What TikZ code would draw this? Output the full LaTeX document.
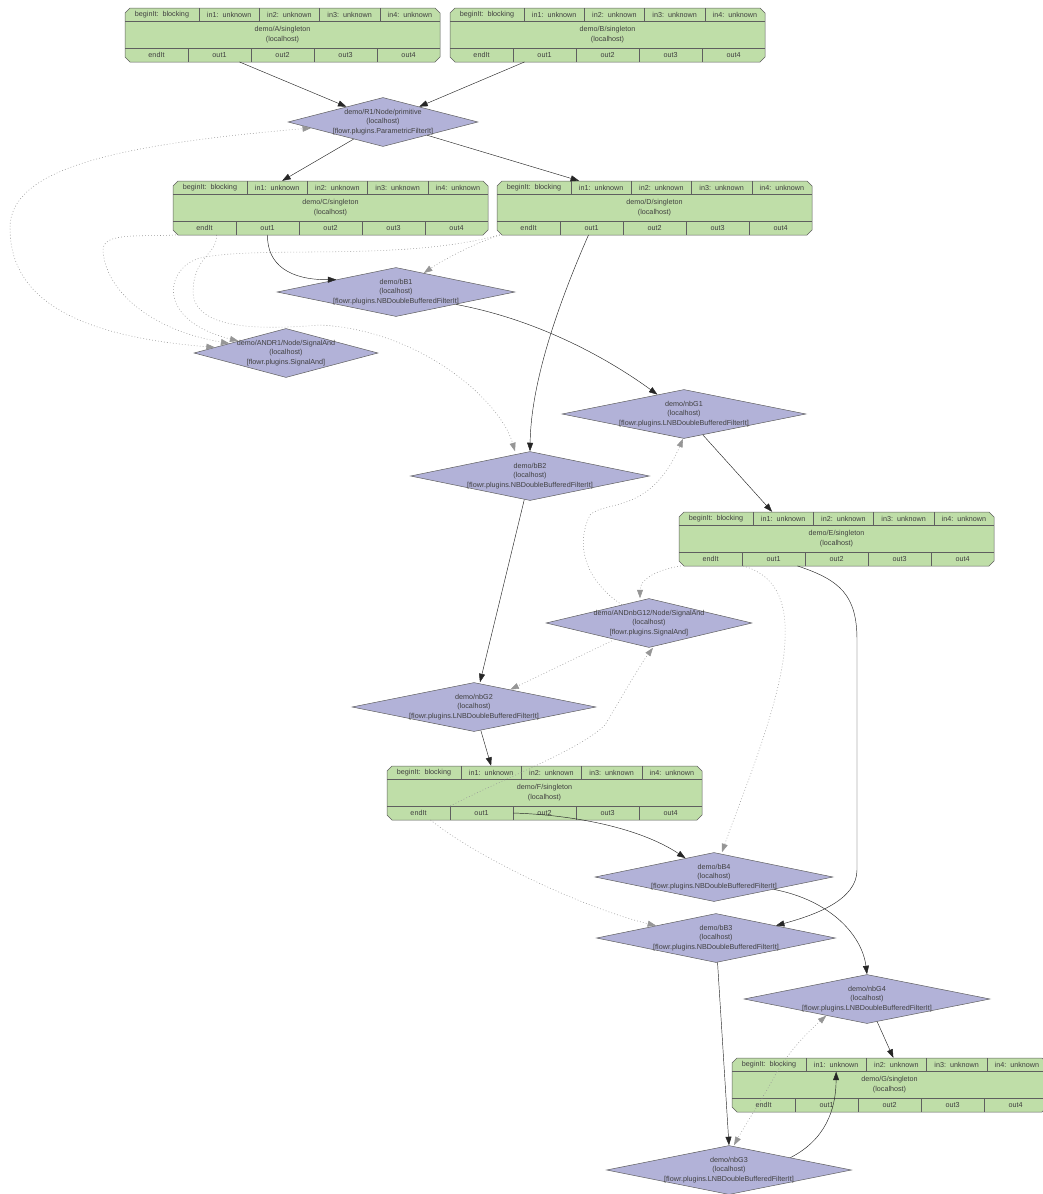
\documentclass[tikz,border=0pt]{standalone}
\usepackage{fontspec}
\setmainfont{Liberation Sans}
\usepackage{tikz}
\usetikzlibrary{
  arrows.meta,
  positioning,
  calc,
  shapes.geometric
}
\definecolor{singletongreen}{RGB}{191,222,168}
\definecolor{filterlilac}{RGB}{178,178,216}
\definecolor{outlinegray}{RGB}{95,95,95}
\definecolor{signalgray}{RGB}{150,150,150}
\tikzset{
  recordline/.style={draw=outlinegray,line width=0.5pt},
  cellbox/.style={
    inner sep=0pt,
    minimum height=13.5pt,
    text=black!75,
    font=\fontsize{7.2}{8}\selectfont
  },
  titlebox/.style={inner sep=0pt,align=center,text=black!75,font=\fontsize{7.2}{9.8}\selectfont},
  filterbox/.style={
    diamond,
    draw=outlinegray,
    fill=filterlilac,
    line width=0.5pt,
    inner sep=0pt,
    minimum height=49pt
  },
  filtertext/.style={inner sep=0pt,align=center,text=black!75,font=\fontsize{7.2}{9.8}\selectfont},
  flowedge/.style={-{Triangle[length=8.5pt,width=6pt]},draw=black!85,line width=0.45pt},
  signaledge/.style={-{Triangle[length=8.5pt,width=6pt]},draw=signalgray,line width=0.55pt,dash pattern=on 0.8pt off 2.2pt},
}
% singleton record: name, top-left corner, worker letter
\newcommand{\singletonbox}[3]{%
  \begin{scope}[shift={#2}]
    \draw[recordline,fill=singletongreen] (0,5) -- (5,0) -- (310,0) -- (315,5) -- (315,49) -- (310,54) -- (5,54) -- (0,49) -- cycle;
    \draw[recordline] (0,13.5) -- (315,13.5) (0,40) -- (315,40);
    \node[cellbox,minimum width=74pt] (#1-beginIt) at (37,6.75) {beginIt:\ \ blocking};
    \foreach \i in {1,...,4} {
      \draw[recordline] ({74+60.25*(\i-1)},0) -- ++(0,13.5);
      \node[cellbox,minimum width=60.25pt] (#1-in\i) at ({74+60.25*(\i-0.5)},6.75) {in\i:\ \ unknown};
    }
    \node[titlebox] (#1-title) at (157.5,26.75) {demo/#3/singleton\\(localhost)};
    \node[cellbox,minimum width=63pt] (#1-endIt) at (31.5,47) {endIt};
    \foreach \i in {1,...,4} {
      \draw[recordline] (63*\i,40) -- ++(0,14);
      \node[cellbox,minimum width=63pt] (#1-out\i) at ({63*\i+31.5},47) {out\i};
    }
  \end{scope}
}
% filter diamond: name, centre, width, title, plugin
\newcommand{\filternode}[5]{%
  \node[filterbox,minimum width=#3] (#1) at #2 {};
  \node[filtertext] (#1-text) at (#1.center) {#4\\(localhost)\\{[flowr.plugins.#5]}};
}

\begin{document}
\begin{tikzpicture}[x=1pt,y=-1pt]
  \useasboundingbox (0,0) rectangle (1043,1194);

  % workers
  \singletonbox{A}{(125,8)}{A}
  \singletonbox{B}{(450,8)}{B}
  \singletonbox{C}{(173,181)}{C}
  \singletonbox{D}{(497,181)}{D}
  \singletonbox{E}{(679,512)}{E}
  \singletonbox{F}{(387,766)}{F}
  \singletonbox{G}{(732,1058)}{G}

  % filters
  \filternode{R1}{(383,122)}{190pt}{demo/R1/Node/primitive}{ParametricFilterIt}
  \filternode{bB1}{(396,292)}{238pt}{demo/bB1}{NBDoubleBufferedFilterIt}
  \filternode{ANDR1}{(286,353)}{184pt}{demo/ANDR1/Node/SignalAnd}{SignalAnd}
  \filternode{nbG1}{(684,414)}{244pt}{demo/nbG1}{LNBDoubleBufferedFilterIt}
  \filternode{bB2}{(530,476)}{239pt}{demo/bB2}{NBDoubleBufferedFilterIt}
  \filternode{ANDnbG12}{(649,623)}{206pt}{demo/ANDnbG12/Node/SignalAnd}{SignalAnd}
  \filternode{nbG2}{(474,707)}{244pt}{demo/nbG2}{LNBDoubleBufferedFilterIt}
  \filternode{bB4}{(714,877)}{238pt}{demo/bB4}{NBDoubleBufferedFilterIt}
  \filternode{bB3}{(716,938)}{239pt}{demo/bB3}{NBDoubleBufferedFilterIt}
  \filternode{nbG4}{(867,999)}{246pt}{demo/nbG4}{LNBDoubleBufferedFilterIt}
  \filternode{nbG3}{(729,1170)}{245pt}{demo/nbG3}{LNBDoubleBufferedFilterIt}

  % data connectors
  \draw[flowedge] ([xshift=20pt]A-out1.south) -- (R1);
  \draw[flowedge] ([xshift=-20pt]B-out1.south) -- (R1);
  \draw[flowedge] (R1) -- ([xshift=5pt]C-in1.north);
  \draw[flowedge] (R1) -- ([xshift=-22pt]D-in1.north);
  \draw[flowedge] (C-out1.south) .. controls (267,265) and (290,280) .. (bB1.north west);
  \draw[flowedge] ([xshift=-3pt]D-out1.south) .. controls (560,300) and (531,380) .. (bB2.north);
  \draw[flowedge] (bB1.south east) .. controls (540,320) and (610,360) .. (nbG1);
  \draw[flowedge] (nbG1) -- ([xshift=-11pt]E-in1.north);
  \draw[flowedge] (bB2) -- ([xshift=6pt]nbG2.north);
  \draw[flowedge] (nbG2) -- (F-in1.north);
  \draw[flowedge] (F-out1.east) .. controls (575,815) and (640,828) .. (bB4);
  \draw[flowedge] ([xshift=24pt]E-out1.south) .. controls (840,580) and (857,595) .. (857,640)
    -- (857,870) .. controls (857,900) and (815,915) .. (bB3.north east);
  \draw[flowedge] (bB4.south east) .. controls (830,900) and (862,935) .. (nbG4.north);
  \draw[flowedge] (nbG4) -- ([xshift=-3pt]G-in2.north);
  \draw[flowedge] (bB3) -- (nbG3.north);
  \draw[flowedge] (nbG3.north east) .. controls (825,1140) and (836,1110) .. (G-in1.south);

  % signal connectors
  \draw[signaledge,{Triangle[length=8.5pt,width=6pt]}-{Triangle[length=8.5pt,width=6pt]}]
    (ANDR1) .. controls (60,335) and (10,290) .. (10,228) .. controls (10,170) and (110,145) .. (R1);
  \draw[signaledge] ([xshift=3pt]C-endIt.south west) .. controls (140,237) and (103,232) .. (103,250)
    .. controls (105,290) and (150,330) .. (ANDR1);
  \draw[signaledge] ([xshift=3pt]D-endIt.south west) .. controls (400,262) and (260,245) .. (200,258)
    .. controls (165,268) and (155,320) .. (ANDR1);
  \draw[signaledge] ([xshift=12pt]C-endIt.south) .. controls (217,255) and (195,255) .. (193,290)
    .. controls (192,330) and (260,330) .. (320,325) .. controls (420,330) and (500,400) .. ([xshift=-15pt]bB2.north);
  \draw[signaledge] ([xshift=3pt]D-endIt.south west) .. controls (470,245) and (440,262) .. (bB1);
  \draw[signaledge] ([xshift=2pt]E-endIt.south west) .. controls (655,570) and (640,580) .. ([xshift=-9pt]ANDnbG12.north);
  \draw[signaledge] ([xshift=1pt]E-endIt.south east) .. controls (775,575) and (787,600) .. (785,640)
    .. controls (783,700) and (740,800) .. ([xshift=8pt]bB4.north);
  \draw[signaledge] (F-endIt.north east) .. controls (500,780) and (580,750) .. (605,725)
    .. controls (620,700) and (640,665) .. ([xshift=4pt]ANDnbG12.south);
  \draw[signaledge] (ANDnbG12) .. controls (585,580) and (575,545) .. (590,515)
    .. controls (605,500) and (650,515) .. ([xshift=-1pt]nbG1.south);
  \draw[signaledge] (ANDnbG12) -- (nbG2);
  \draw[signaledge] ([xshift=12pt]F-endIt.south) .. controls (480,860) and (590,910) .. (bB3.north west);
  \coordinate (G-sig) at ([xshift=8pt]G-beginIt.south);
  \draw[signaledge] (G-sig) .. controls (790,1050) and (810,1030) .. ($(nbG4.south)!0.33!(nbG4.west)$);
  \draw[signaledge] (G-sig) .. controls (765,1095) and (745,1125) .. ([xshift=5pt]nbG3.north);
\end{tikzpicture}
\end{document}
